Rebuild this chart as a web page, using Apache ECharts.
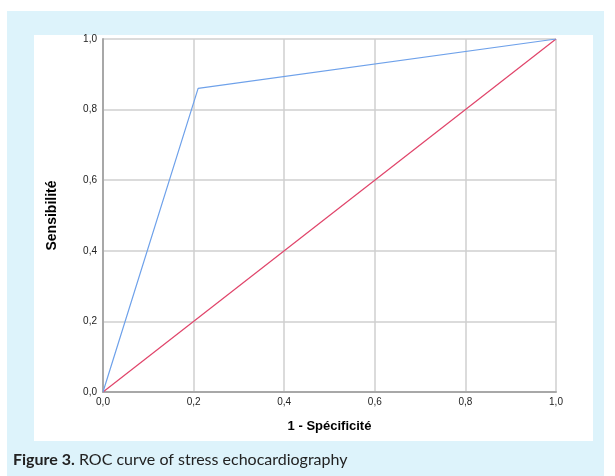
<!DOCTYPE html>
<html>
<head>
<meta charset="utf-8">
<script src="https://cdn.jsdelivr.net/npm/echarts@6/dist/echarts.min.js"></script>
<style>
  html, body { margin: 0; padding: 0; background: #fff; }
  #chart { width: 615px; height: 476px; }
</style>
</head>
<body>
<div id="chart"></div>
<script>
// ROC curve points (1 - specificity, sensitivity)
var rocX = [0, 0.21, 1];
var rocY = [0, 0.86, 1];
// reference diagonal
var refX = [0, 1];
var refY = [0, 1];

var fmt = function (v) { return v.toFixed(1).replace('.', ','); };

var chart = echarts.init(document.getElementById('chart'));
chart.setOption({
    backgroundColor: '#fff',
    animation: false,
    graphic: [
        { type: 'rect', shape: { x: 7, y: 11, width: 597, height: 465 }, style: { fill: '#ddf3fb' }, z: -10 },
        { type: 'rect', shape: { x: 34, y: 35, width: 559, height: 406 }, style: { fill: '#ffffff' }, z: -9 }
    ],
    title: {
        text: '{b|Figure 3.} ROC curve of stress echocardiography',
        left: 8,
        top: 447,
        textStyle: {
            fontFamily: 'Lato',
            fontSize: 16,
            fontWeight: 'normal',
            color: '#222',
            rich: { b: { fontFamily: 'Lato', fontSize: 16, fontWeight: 'bold', color: '#222' } }
        }
    },
    grid: { left: 103, right: 59, top: 39, bottom: 84 },
    xAxis: {
        type: 'value', min: 0, max: 1, interval: 0.2,
        name: '1 - Spécificité', nameLocation: 'middle', nameGap: 28,
        nameTextStyle: { fontFamily: 'Liberation Sans', fontWeight: 'bold', fontSize: 13, color: '#000' },
        axisLine: { show: true, lineStyle: { color: '#a8a8a8', width: 2 } },
        axisTick: { show: false },
        axisLabel: { formatter: fmt, fontFamily: 'Liberation Sans', fontSize: 10, color: '#222', margin: 5 },
        splitLine: { show: true, lineStyle: { color: '#cfcfcf', width: 1.5 } }
    },
    yAxis: {
        type: 'value', min: 0, max: 1, interval: 0.2,
        name: 'Sensibilité', nameLocation: 'middle', nameGap: 44,
        nameTextStyle: { fontFamily: 'Liberation Sans', fontWeight: 'bold', fontSize: 14, color: '#000' },
        axisLine: { show: true, lineStyle: { color: '#a8a8a8', width: 2 } },
        axisTick: { show: false },
        axisLabel: { formatter: fmt, fontFamily: 'Liberation Sans', fontSize: 10, color: '#222', margin: 6 },
        splitLine: { show: true, lineStyle: { color: '#cfcfcf', width: 1.5 } }
    },
    series: [
        {
            type: 'line', symbol: 'none',
            data: refX.map(function (x, i) { return [x, refY[i]]; }),
            lineStyle: { color: '#e0446a', width: 1.2 }
        },
        {
            type: 'line', symbol: 'none',
            data: rocX.map(function (x, i) { return [x, rocY[i]]; }),
            lineStyle: { color: '#6ea1ea', width: 1.2 }
        }
    ]
});
</script>
</body>
</html>
